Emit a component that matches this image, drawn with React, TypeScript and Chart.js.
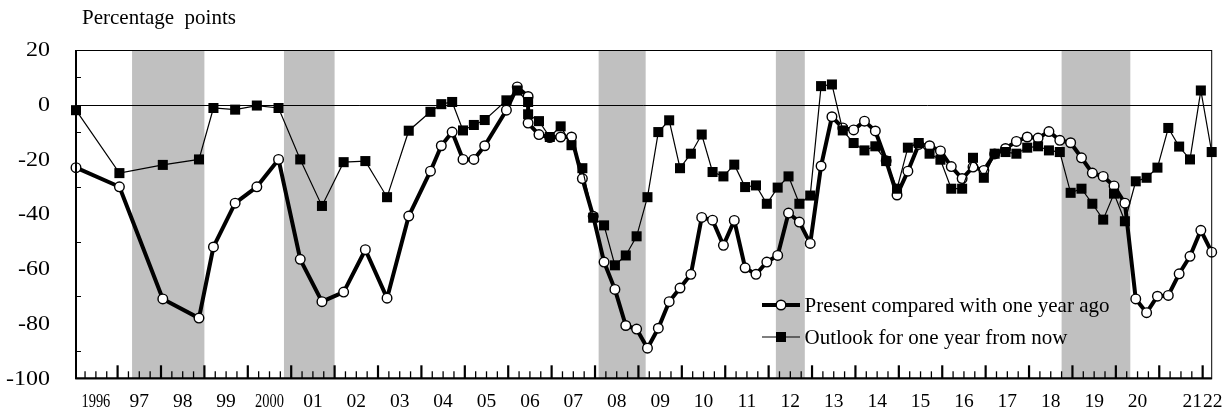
import React, { useEffect, useRef } from "react";
import { Chart, registerables } from "chart.js";

Chart.register(...registerables);

// ---- data ----
const surveyDates = [
  "1996-01", "1997-01", "1998-01", "1998-11", "1999-03", "1999-09", "2000-03", "2000-09",
  "2001-03", "2001-09", "2002-03", "2002-09", "2003-03", "2003-09", "2004-03",
  "2004-06", "2004-09", "2004-12",
  "2005-03", "2005-06", "2005-12",
  "2006-03", "2006-06", "2006-06", "2006-09", "2006-12",
  "2007-03", "2007-06", "2007-09", "2007-12",
  "2008-03", "2008-06", "2008-09", "2008-12",
  "2009-03", "2009-06", "2009-09", "2009-12",
  "2010-03", "2010-06", "2010-09", "2010-12",
  "2011-03", "2011-06", "2011-09", "2011-12",
  "2012-03", "2012-06", "2012-09", "2012-12",
  "2013-03", "2013-06", "2013-09", "2013-12",
  "2014-03", "2014-06", "2014-09", "2014-12",
  "2015-03", "2015-06", "2015-09", "2015-12",
  "2016-03", "2016-06", "2016-09", "2016-12",
  "2017-03", "2017-06", "2017-09", "2017-12",
  "2018-03", "2018-06", "2018-09", "2018-12",
  "2019-03", "2019-06", "2019-09", "2019-12",
  "2020-03", "2020-06", "2020-09", "2020-12",
  "2021-03", "2021-06", "2021-09", "2021-12",
  "2022-03",
];

const presentValues = [
  -23, -30, -71, -78, -52, -36, -30, -20,
  -56.5, -72, -68.5, -53, -70.7, -40.7, -24.3,
  -15, -10, -20,
  -20, -15, -2,
  6.5, 3, -6.7, -10.9, -12,
  -11.8, -11.8, -27, -40.8,
  -57.5, -67.5, -80.7, -82,
  -89, -81.7, -72, -67,
  -62, -41.2, -42.2, -51.4,
  -42.3, -59.6, -62, -57.5,
  -55.1, -39.6, -42.9, -50.7,
  -22.4, -4.4, -8.5, -9.2,
  -6, -9.6, -20.5, -33,
  -24.3, -14.5, -15, -16.9,
  -22.6, -27, -22.8, -24,
  -18, -16, -13.4, -11.8,
  -12.2, -9.8, -13, -13.9,
  -19.4, -25, -26.2, -29.7,
  -36, -71, -76, -70,
  -69.7, -61.8, -55.4, -45.9,
  -53.9,
];

const outlookValues = [
  -2, -25, -22, -20, -1.2, -1.8, -0.3, -1.2,
  -20, -37, -21, -20.6, -33.8, -9.5, -2.6,
  0.2, 1, -9.4,
  -7.4, -5.6, 1.6,
  5.2, 1, -3.5, -6, -11.8,
  -7.9, -14.8, -23.2, -41.3,
  -44.1, -58.7, -55.1, -48.1,
  -33.8, -10, -5.7, -23.2,
  -17.9, -10.9, -24.6, -26.2,
  -21.9, -30.1, -29.5, -36.2,
  -30.3, -26.2, -36.2, -33.2,
  6.8, 7.4, -9.4, -14,
  -16.7, -15.2, -20.6, -30.7,
  -15.7, -14, -17.9, -20.1,
  -30.7, -30.7, -19.4, -26.7,
  -17.9, -17.3, -17.9, -15.7,
  -15.2, -16.7, -17.3, -32.2,
  -30.7, -36.2, -42, -32.5,
  -42.6, -28, -26.7, -23,
  -8.5, -15.3, -20, 5.2,
  -17.3,
];

// recession periods (peak month, trough month)
const recessionStarts = ["1997-05", "2000-11", "2008-02", "2012-03", "2018-10"];
const recessionEnds = ["1999-01", "2002-01", "2009-03", "2012-11", "2020-05"];

const yTickValues = [20, 0, -20, -40, -60, -80, -100];
const yMinorTickValues = [10, -10, -30, -50, -70, -90];
const yearLabels = [
  "1996", "97", "98", "99", "2000", "01", "02", "03", "04", "05", "06", "07", "08",
  "09", "10", "11", "12", "13", "14", "15", "16", "17", "18", "19", "20", "21", "22",
];
const firstYear = 1996;
const axisTitle = "Percentage  points";
const seriesNames = ["Present compared with one year ago", "Outlook for one year from now"];

// ---- helpers ----
const monthIndex = (s: string) => {
  const [y, m] = s.split("-").map(Number);
  return (y - firstYear) * 12 + (m - 1);
};
const pointX = (s: string) => monthIndex(s) + 0.5;

const FONT = "'Liberation Serif', 'Times New Roman', serif";

const decorPlugin = {
  id: "decor",
  beforeDatasetsDraw(chart: any) {
    const { ctx, chartArea: a, scales } = chart;
    const x = scales.x;
    const y = scales.y;
    ctx.save();
    ctx.fillStyle = "#c0c0c0";
    for (let i = 0; i < recessionStarts.length; i++) {
      const x0 = x.getPixelForValue(monthIndex(recessionStarts[i]));
      const x1 = x.getPixelForValue(monthIndex(recessionEnds[i]));
      ctx.fillRect(x0, a.top, x1 - x0, a.bottom - a.top);
    }
    const y0 = Math.round(y.getPixelForValue(0)) + 0.5;
    ctx.strokeStyle = "#000";
    ctx.lineWidth = 1;
    ctx.beginPath();
    ctx.moveTo(a.left, y0);
    ctx.lineTo(a.right, y0);
    ctx.stroke();
    ctx.restore();
  },
  afterDatasetsDraw(chart: any) {
    const { ctx, chartArea: a, scales } = chart;
    const x = scales.x;
    const y = scales.y;
    ctx.save();
    ctx.strokeStyle = "#000";
    // frame
    ctx.lineWidth = 1;
    ctx.strokeRect(a.left, a.top + 0.5, a.right - a.left, a.bottom - a.top);
    ctx.lineWidth = 2;
    ctx.beginPath();
    ctx.moveTo(a.left, a.top);
    ctx.lineTo(a.left, a.bottom);
    ctx.lineTo(a.right, a.bottom);
    ctx.stroke();

    // x ticks (quarterly, major at each January)
    const maxM = x.max;
    for (let m = 3; m <= maxM; m += 3) {
      const px = x.getPixelForValue(m);
      const major = m % 12 === 0;
      ctx.lineWidth = major ? 2.2 : 1.3;
      ctx.beginPath();
      ctx.moveTo(px, a.bottom);
      ctx.lineTo(px, a.bottom - (major ? 13 : 7));
      ctx.stroke();
    }
    // y minor ticks
    ctx.lineWidth = 1;
    for (const v of yMinorTickValues) {
      const py = Math.round(y.getPixelForValue(v)) + 0.5;
      ctx.beginPath();
      ctx.moveTo(a.left, py);
      ctx.lineTo(a.left + 5, py);
      ctx.stroke();
    }

    ctx.fillStyle = "#000";
    // y labels
    ctx.font = `20px ${FONT}`;
    ctx.textBaseline = "middle";
    ctx.textAlign = "right";
    for (const v of yTickValues) {
      const py = y.getPixelForValue(v);
      ctx.save();
      ctx.translate(50, py + 1);
      ctx.scale(1.2, 1);
      ctx.fillText(String(v), 0, 0);
      ctx.restore();
    }

    // x labels
    ctx.font = `19.5px ${FONT}`;
    ctx.textAlign = "center";
    const n = yearLabels.length;
    for (let i = 0; i < n; i++) {
      let cx = x.getPixelForValue(i * 12 + 6);
      if (i === n - 1) cx = Math.min(cx, a.right + 1);
      if (i === n - 2) cx = Math.min(a.right + 1, x.getPixelForValue((i + 1) * 12 + 6)) - 20.5;
      const label = yearLabels[i];
      ctx.save();
      ctx.translate(cx, 402);
      if (label.length > 2) ctx.scale(0.74, 1);
      ctx.fillText(label, 0, 0);
      ctx.restore();
    }

    // axis title
    ctx.textAlign = "left";
    ctx.textBaseline = "alphabetic";
    ctx.font = `21px ${FONT}`;
    ctx.fillText(axisTitle, 82, 24);

    // legend
    const lx0 = 762;
    const lx1 = 800;
    const lxm = 781;
    const ly = [305, 337];
    // present
    ctx.lineWidth = 4;
    ctx.beginPath();
    ctx.moveTo(lx0, ly[0]);
    ctx.lineTo(lx1, ly[0]);
    ctx.stroke();
    ctx.lineWidth = 1.4;
    ctx.fillStyle = "#fff";
    ctx.beginPath();
    ctx.arc(lxm, ly[0], 4.8, 0, Math.PI * 2);
    ctx.fill();
    ctx.stroke();
    // outlook
    ctx.lineWidth = 1.2;
    ctx.beginPath();
    ctx.moveTo(lx0, ly[1]);
    ctx.lineTo(lx1, ly[1]);
    ctx.stroke();
    ctx.fillStyle = "#000";
    ctx.fillRect(lxm - 5, ly[1] - 5, 10, 10);

    ctx.font = `21px ${FONT}`;
    ctx.textBaseline = "middle";
    ctx.fillText(seriesNames[0], 804.5, ly[0] + 1);
    ctx.fillText(seriesNames[1], 804.5, ly[1] + 1);
    ctx.restore();
  },
};

export default function App() {
  const canvasRef = useRef<HTMLCanvasElement | null>(null);

  useEffect(() => {
    const canvas = canvasRef.current;
    if (!canvas) return;
    const chart = new Chart(canvas, {
      type: "line",
      data: {
        datasets: [
          {
            label: seriesNames[0],
            data: surveyDates.map((d, i) => ({ x: pointX(d), y: presentValues[i] })),
            borderColor: "#000",
            borderWidth: 4,
            borderJoinStyle: "round",
            pointStyle: "circle",
            pointRadius: 4.8,
            pointBorderWidth: 1.4,
            pointBackgroundColor: "#fff",
            pointBorderColor: "#000",
            tension: 0,
            clip: false,
            order: 1,
          },
          {
            label: seriesNames[1],
            data: surveyDates.map((d, i) => ({ x: pointX(d), y: outlookValues[i] })),
            borderColor: "#000",
            borderWidth: 1.2,
            pointStyle: "rect",
            pointRadius: 7.1,
            pointBorderWidth: 0,
            pointBackgroundColor: "#000",
            pointBorderColor: "#000",
            tension: 0,
            clip: false,
            order: 0,
          },
        ],
      },
      options: {
        animation: false,
        responsive: false,
        maintainAspectRatio: false,
        devicePixelRatio: 1,
        layout: { padding: { left: 76, right: 15.3, top: 50, bottom: 35.7 } },
        plugins: { legend: { display: false }, tooltip: { enabled: false } },
        events: [],
        scales: {
          x: {
            type: "linear",
            display: false,
            min: pointX(surveyDates[0]),
            max: pointX(surveyDates[surveyDates.length - 1]),
          },
          y: { type: "linear", display: false, min: -100, max: 20 },
        },
      },
      plugins: [decorPlugin],
    } as any);
    return () => chart.destroy();
  }, []);

  return (
    <div style={{ position: "fixed", left: 0, top: 0, width: 1227, height: 414, background: "#fff" }}>
      <canvas ref={canvasRef} width={1227} height={414} style={{ width: 1227, height: 414, display: "block" }} />
    </div>
  );
}
